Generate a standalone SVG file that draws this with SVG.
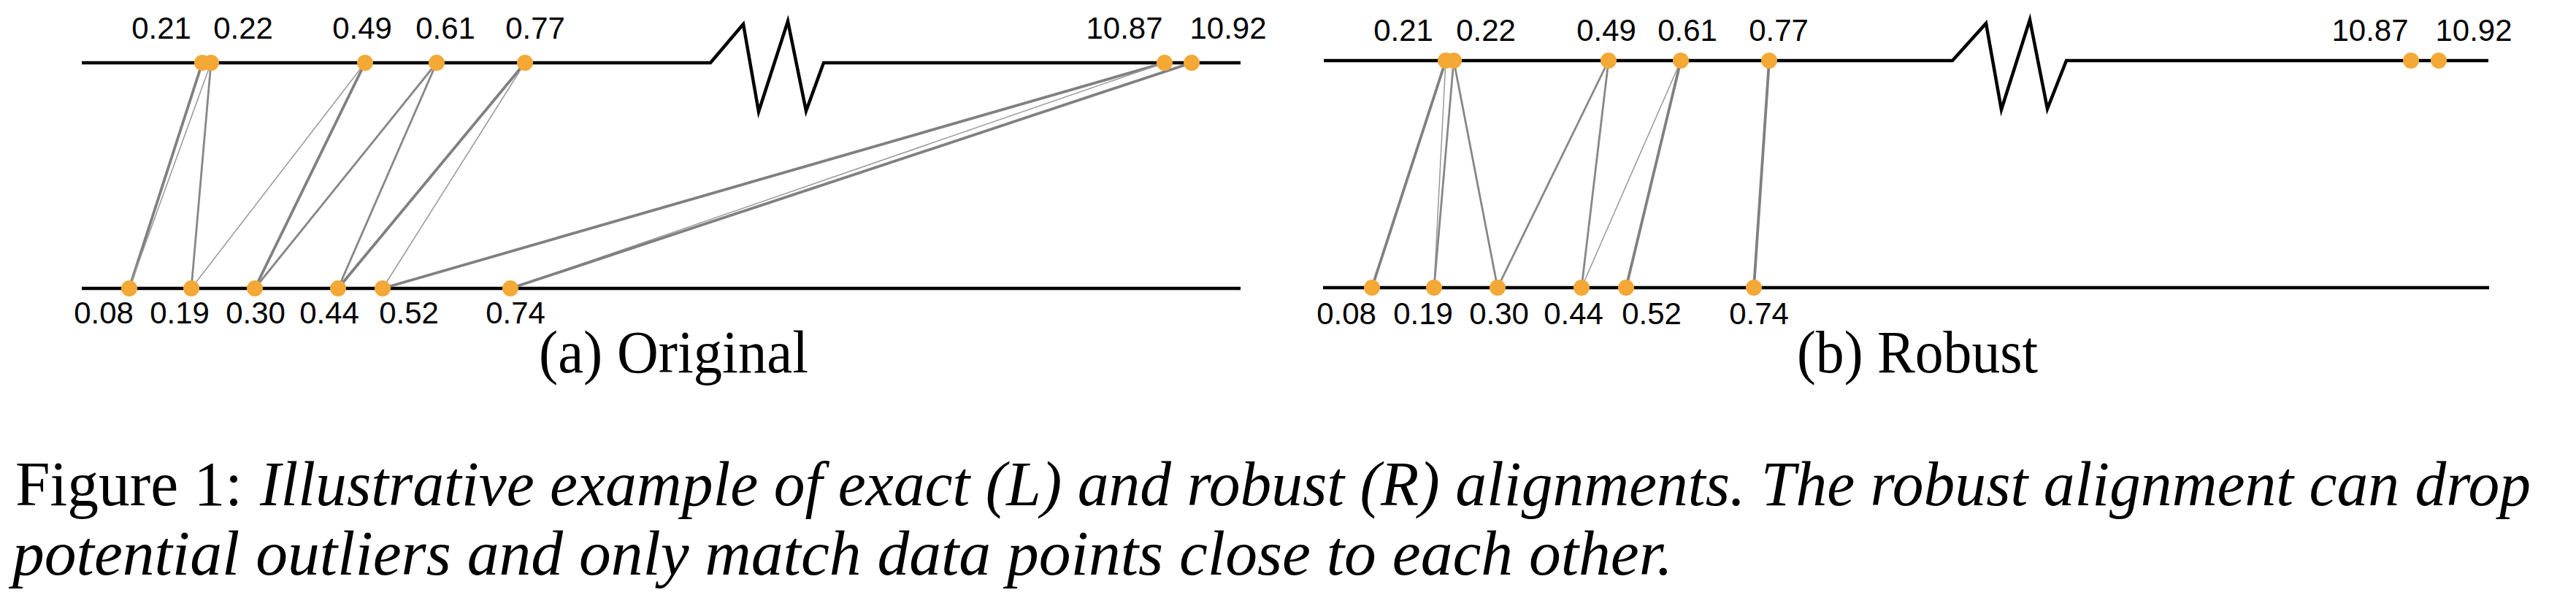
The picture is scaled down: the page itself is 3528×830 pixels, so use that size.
<svg xmlns="http://www.w3.org/2000/svg" width="3528" height="830" viewBox="0 0 3528 830">
<style>
.axis{fill:none;stroke:#000;stroke-width:4.5;stroke-linejoin:miter;stroke-miterlimit:10}
.dot{fill:#F4A836}
.num{font-family:"Liberation Sans",Arial,sans-serif;font-size:42px;fill:#000;text-anchor:middle}
.cap{font-family:"Liberation Serif","Times New Roman",serif;fill:#000}
.thick{stroke:#808080;stroke-width:3.8;fill:none}
.med{stroke:#878787;stroke-width:2.8;fill:none}
.thin{stroke:#999;stroke-width:1.5;fill:none}
</style>
<rect width="3528" height="830" fill="#fff"/>

<g id="axes">
  <polyline class="axis" points="112,86 973,86 1018,33 1039,153 1079,29 1104,152 1128,86 1699,86"/>
  <line class="axis" x1="112" y1="395" x2="1699" y2="395"/>
  <polyline class="axis" points="1813,83 2674,83 2720,32 2741,150 2780,27 2804,149 2830,83 3408,83"/>
  <line class="axis" x1="1812" y1="394" x2="3409" y2="394"/>
</g>

<g id="connectors">
  <!-- (a) Original -->
  <line class="thick" x1="277" y1="86" x2="177" y2="395"/>
  <line class="thin" x1="289" y1="86" x2="177" y2="395"/>
  <line class="med" x1="289" y1="86" x2="262" y2="395"/>
  <line class="thin" x1="500" y1="86" x2="262" y2="395"/>
  <line class="thick" x1="500" y1="86" x2="349" y2="395"/>
  <line class="med" x1="598" y1="86" x2="349" y2="395"/>
  <line class="med" x1="598" y1="86" x2="463" y2="395"/>
  <line class="thick" x1="719" y1="86" x2="463" y2="395"/>
  <line class="thin" x1="719" y1="86" x2="524" y2="395"/>
  <line class="thick" x1="1595" y1="86" x2="524" y2="395"/>
  <line class="thin" x1="1595" y1="86" x2="699" y2="395"/>
  <line class="thick" x1="1632" y1="86" x2="699" y2="395"/>
  <!-- (b) Robust -->
  <line class="thick" x1="1980" y1="83" x2="1879" y2="394"/>
  <line class="thin" x1="1980" y1="83" x2="1964" y2="394"/>
  <line class="med" x1="1991" y1="83" x2="1964" y2="394"/>
  <line class="med" x1="1991" y1="83" x2="2051" y2="394"/>
  <line class="med" x1="2203" y1="83" x2="2051" y2="394"/>
  <line class="med" x1="2203" y1="83" x2="2166" y2="394"/>
  <line class="thin" x1="2302" y1="83" x2="2166" y2="394"/>
  <line class="thick" x1="2302" y1="83" x2="2227" y2="394"/>
  <line class="thick" x1="2423" y1="83" x2="2402" y2="394"/>
</g>

<!-- (a) top nodes -->
<g id="a-top-0.21"><circle class="dot" cx="277" cy="86" r="11"/><text class="num" x="221" y="53">0.21</text></g>
<g id="a-top-0.22"><circle class="dot" cx="289" cy="86" r="11"/><text class="num" x="333" y="53">0.22</text></g>
<g id="a-top-0.49"><circle class="dot" cx="500" cy="86" r="11"/><text class="num" x="496" y="53">0.49</text></g>
<g id="a-top-0.61"><circle class="dot" cx="598" cy="86" r="11"/><text class="num" x="610" y="53">0.61</text></g>
<g id="a-top-0.77"><circle class="dot" cx="719" cy="86" r="11"/><text class="num" x="733" y="53">0.77</text></g>
<g id="a-top-10.87"><circle class="dot" cx="1595" cy="86" r="11"/><text class="num" x="1540" y="53">10.87</text></g>
<g id="a-top-10.92"><circle class="dot" cx="1632" cy="86" r="11"/><text class="num" x="1682" y="53">10.92</text></g>
<!-- (a) bottom nodes -->
<g id="a-bot-0.08"><circle class="dot" cx="177" cy="395" r="11"/><text class="num" x="142" y="443">0.08</text></g>
<g id="a-bot-0.19"><circle class="dot" cx="262" cy="395" r="11"/><text class="num" x="246" y="443">0.19</text></g>
<g id="a-bot-0.30"><circle class="dot" cx="349" cy="395" r="11"/><text class="num" x="350" y="443">0.30</text></g>
<g id="a-bot-0.44"><circle class="dot" cx="463" cy="395" r="11"/><text class="num" x="451" y="443">0.44</text></g>
<g id="a-bot-0.52"><circle class="dot" cx="524" cy="395" r="11"/><text class="num" x="560" y="443">0.52</text></g>
<g id="a-bot-0.74"><circle class="dot" cx="699" cy="395" r="11"/><text class="num" x="706" y="443">0.74</text></g>

<!-- (b) top nodes -->
<g id="b-top-0.21"><circle class="dot" cx="1980" cy="83" r="11"/><text class="num" x="1922" y="56">0.21</text></g>
<g id="b-top-0.22"><circle class="dot" cx="1991" cy="83" r="11"/><text class="num" x="2035" y="56">0.22</text></g>
<g id="b-top-0.49"><circle class="dot" cx="2203" cy="83" r="11"/><text class="num" x="2200" y="56">0.49</text></g>
<g id="b-top-0.61"><circle class="dot" cx="2302" cy="83" r="11"/><text class="num" x="2311" y="56">0.61</text></g>
<g id="b-top-0.77"><circle class="dot" cx="2423" cy="83" r="11"/><text class="num" x="2436" y="56">0.77</text></g>
<g id="b-top-10.87"><circle class="dot" cx="3302" cy="83" r="11"/><text class="num" x="3246" y="56">10.87</text></g>
<g id="b-top-10.92"><circle class="dot" cx="3340" cy="83" r="11"/><text class="num" x="3388" y="56">10.92</text></g>
<!-- (b) bottom nodes -->
<g id="b-bot-0.08"><circle class="dot" cx="1879" cy="394" r="11"/><text class="num" x="1844" y="444">0.08</text></g>
<g id="b-bot-0.19"><circle class="dot" cx="1964" cy="394" r="11"/><text class="num" x="1949" y="444">0.19</text></g>
<g id="b-bot-0.30"><circle class="dot" cx="2051" cy="394" r="11"/><text class="num" x="2053" y="444">0.30</text></g>
<g id="b-bot-0.44"><circle class="dot" cx="2166" cy="394" r="11"/><text class="num" x="2155" y="444">0.44</text></g>
<g id="b-bot-0.52"><circle class="dot" cx="2227" cy="394" r="11"/><text class="num" x="2262" y="444">0.52</text></g>
<g id="b-bot-0.74"><circle class="dot" cx="2402" cy="394" r="11"/><text class="num" x="2409" y="444">0.74</text></g>

<g id="captions">
  <text class="cap" x="738" y="510" font-size="82" textLength="369" lengthAdjust="spacingAndGlyphs">(a) Original</text>
  <text class="cap" x="2461" y="510" font-size="82" textLength="330" lengthAdjust="spacingAndGlyphs">(b) Robust</text>
  <text class="cap" x="21" y="692" font-size="86" textLength="311" lengthAdjust="spacingAndGlyphs">Figure 1:</text>
  <text class="cap" x="356" y="692" font-size="86" font-style="italic" textLength="3110" lengthAdjust="spacingAndGlyphs">Illustrative example of exact (L) and robust (R) alignments. The robust alignment can drop</text>
  <text class="cap" x="17" y="787" font-size="86" font-style="italic" textLength="2274" lengthAdjust="spacingAndGlyphs">potential outliers and only match data points close to each other.</text>
</g>
</svg>
